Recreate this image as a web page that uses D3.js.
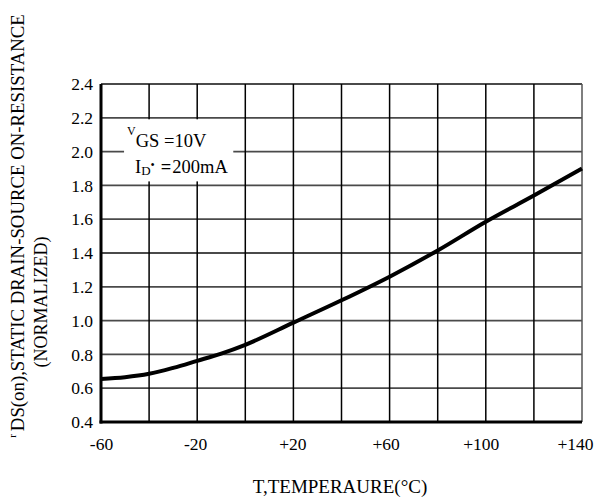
<!DOCTYPE html>
<html>
<head>
<meta charset="utf-8">
<script src="https://cdn.jsdelivr.net/npm/d3@7"></script>
<style>
  body { margin: 0; background: #fff; }
  svg { display: block; }
  text { font-family: "Liberation Serif", "DejaVu Serif", serif; fill: #000; }
</style>
</head>
<body>
<div id="chart"></div>
<script>
// temperature (degC) and normalized rDS(on)
var temps = [-60, -50, -40, -30, -20, -10, 0, 20, 40, 60, 80, 100, 120, 140];
var rdson = [0.655, 0.665, 0.685, 0.72, 0.762, 0.805, 0.857, 0.988, 1.12, 1.26, 1.415, 1.585, 1.74, 1.90];

var xGrid = [-60, -40, -20, 0, 20, 40, 60, 80, 100, 120, 140];
var xLabels = [-60, -20, 20, 60, 100, 140];
var yTicks = [0.4, 0.6, 0.8, 1.0, 1.2, 1.4, 1.6, 1.8, 2.0, 2.2, 2.4];

var W = 595, H = 501;
var margin = {top: 84, right: 13, bottom: 79, left: 101},
    width = W - margin.left - margin.right,
    height = H - margin.top - margin.bottom;

var x = d3.scaleLinear().domain([-60, 140]).range([0, width]),
    y = d3.scaleLinear().domain([0.4, 2.4]).range([height, 0]);

var svg = d3.select('#chart').append('svg')
    .attr('width', W)
    .attr('height', H);

var chart = svg.append('g')
    .attr('transform', 'translate(' + margin.left + ',' + margin.top + ')');

// grid
chart.selectAll('.hgrid')
    .data(yTicks)
  .enter().append('line')
    .attr('class', 'hgrid')
    .attr('x1', 0).attr('x2', width)
    .attr('y1', function (d) { return y(d); })
    .attr('y2', function (d) { return y(d); })
    .attr('stroke', '#4a4a4a')
    .attr('stroke-width', 1.8);

chart.selectAll('.vgrid')
    .data(xGrid)
  .enter().append('line')
    .attr('class', 'vgrid')
    .attr('x1', function (d) { return x(d); })
    .attr('x2', function (d) { return x(d); })
    .attr('y1', 0).attr('y2', height)
    .attr('stroke', function (d) { return d === 140 ? '#555' : '#000'; })
    .attr('stroke-width', 1.5);

// legend box blanks out grid behind it
var boxX = x(-50) - 1, boxY = y(2.2) + 1.5,
    boxW = x(-5) - boxX, boxH = y(1.8) - 4 - boxY;
chart.append('rect')
    .attr('x', boxX).attr('y', boxY)
    .attr('width', boxW).attr('height', boxH)
    .attr('fill', '#fff');

// heavy left and bottom axes
chart.append('line')
    .attr('x1', 0).attr('x2', 0)
    .attr('y1', 0).attr('y2', height + 1.5)
    .attr('stroke', '#000').attr('stroke-width', 3);
chart.append('line')
    .attr('x1', -1.5).attr('x2', width)
    .attr('y1', height).attr('y2', height)
    .attr('stroke', '#000').attr('stroke-width', 3);

// axes labels
var fmtX = function (d) { return d > 0 ? '+' + d : String(d); };
// labels drift a little left of their grid lines in the original
var xShift = {'-60': 0, '-20': -2, '20': -1, '60': -4, '100': -5, '140': -7};

var xAxis = chart.append('g')
    .attr('transform', 'translate(0,' + height + ')')
    .call(d3.axisBottom(x).tickValues(xLabels).tickFormat(fmtX).tickSize(0).tickPadding(16));
var yAxis = chart.append('g')
    .call(d3.axisLeft(y).tickValues(yTicks).tickFormat(d3.format('.1f')).tickSize(0).tickPadding(8));

[xAxis, yAxis].forEach(function (g) {
    g.select('.domain').remove();
    g.selectAll('text')
        .attr('font-family', '"Liberation Serif", serif')
        .attr('font-size', 17.5)
        .attr('fill', '#000');
});
xAxis.selectAll('text').attr('dx', function (d) { return xShift[d] || 0; });

// curve
var line = d3.line()
    .x(function (d, i) { return x(temps[i]); })
    .y(function (d) { return y(d); })
    .curve(d3.curveMonotoneX);

chart.append('path')
    .datum(rdson)
    .attr('d', line)
    .attr('fill', 'none')
    .attr('stroke', '#000')
    .attr('stroke-width', 4);

// legend text
var leg1 = chart.append('text')
    .attr('x', boxX + 3).attr('y', boxY + 28)
    .attr('font-size', 18.5);
leg1.append('tspan').attr('font-size', 12).attr('dy', -12).text('V');
leg1.append('tspan').attr('dy', 12).attr('dx', 0).text('GS =10V');

var leg2 = chart.append('text')
    .attr('x', boxX + 11).attr('y', boxY + 54)
    .attr('font-size', 18.5);
leg2.append('tspan').text('I');
leg2.append('tspan').attr('font-size', 13).attr('dy', 2).text('D');
leg2.append('tspan').attr('font-size', 12).attr('dy', -6).text('\u2022');
leg2.append('tspan').attr('dy', 4).attr('dx', 6).attr('font-weight', 'bold').text('=');
leg2.append('tspan').attr('dx', 1).text('200mA');

// axis titles
svg.append('text')
    .attr('x', 340)
    .attr('y', 493)
    .attr('text-anchor', 'middle')
    .attr('font-size', 19)
    .text('T,TEMPERAURE(\u00B0C)');

var yt = svg.append('text')
    .attr('transform', 'translate(24,226) rotate(-90)')
    .attr('text-anchor', 'middle')
    .attr('font-size', 18.8);
yt.append('tspan').attr('font-size', 11).attr('dy', -8).text('r');
yt.append('tspan').attr('dy', 8).attr('dx', 3).text('DS(on),STATIC DRAIN-SOURCE ON-RESISTANCE');

svg.append('text')
    .attr('transform', 'translate(47,302) rotate(-90)')
    .attr('text-anchor', 'middle')
    .attr('font-size', 18)
    .text('(NORMALIZED)');
</script>
</body>
</html>
